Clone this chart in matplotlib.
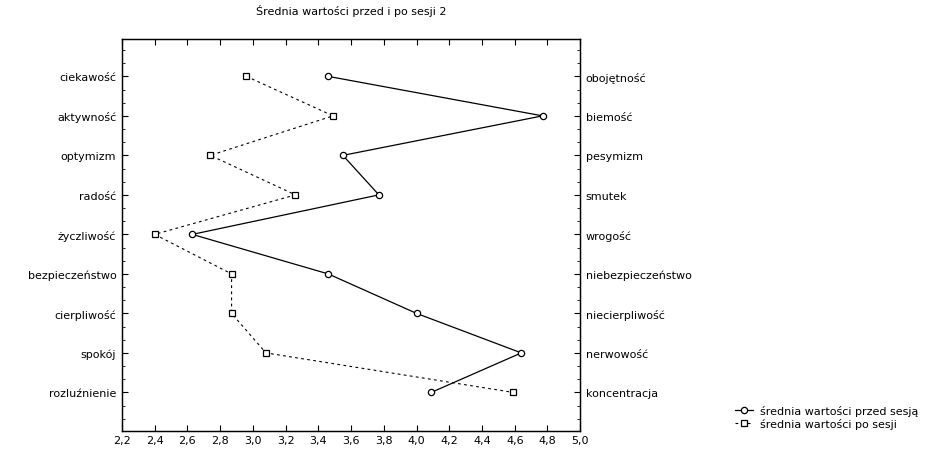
import matplotlib.pyplot as plt
import numpy as np
from matplotlib.ticker import FuncFormatter, MultipleLocator

plt.rcParams["font.family"] = ["DejaVu Sans"]

positive = ["ciekawość", "aktywność", "optymizm", "radość", "życzliwość",
            "bezpieczeństwo", "cierpliwość", "spokój", "rozluźnienie"]
negative = ["obojętność", "biemość", "pesymizm", "smutek", "wrogość",
            "niebezpieczeństwo", "niecierpliwość", "nerwowość", "koncentracja"]
before = [3.46, 4.77, 3.55, 3.77, 2.63, 3.46, 4.00, 4.64, 4.09]
after = [2.96, 3.49, 2.74, 3.26, 2.40, 2.87, 2.87, 3.08, 4.59]

pos = np.arange(1, len(positive) + 1)

fig = plt.figure(figsize=(9.45, 4.52), dpi=100)
ax = fig.add_axes([0.129, 0.044, 0.485, 0.867])

ax.plot(before, pos, color="black", lw=0.9, marker="o", ms=4.5,
        mfc="white", mec="black", mew=0.9, label="średnia wartości przed sesją")
ax.plot(after, pos, color="black", lw=0.8, ls=(0, (2.5, 3)), marker="s", ms=4.2,
        mfc="white", mec="black", mew=0.9, label="średnia wartości po sesji")

ax.set_xlim(2.2, 5.0)
ax.set_ylim(9.98, 0.06)
ax.set_xticks(np.arange(2.2, 5.01, 0.2))
ax.xaxis.set_major_formatter(FuncFormatter(lambda v, _: f"{v:.1f}".replace(".", ",")))
ax.set_yticks(pos)
ax.set_yticklabels(positive)
ax.yaxis.set_minor_locator(MultipleLocator(1 / 3))
ax.tick_params(axis="both", direction="in", labelsize=8, length=4, width=0.8,
               top=True, pad=4)
ax.tick_params(axis="x", pad=3)
ax.tick_params(axis="y", which="minor", direction="in", length=2, width=0.6)

ax2 = ax.twinx()
ax2.set_ylim(ax.get_ylim())
ax2.set_yticks(pos)
ax2.set_yticklabels(negative)
ax2.yaxis.set_minor_locator(MultipleLocator(1 / 3))
ax2.tick_params(axis="y", direction="in", labelsize=8, length=4, width=0.8, pad=4)
ax2.tick_params(axis="y", which="minor", direction="in", length=2, width=0.6)

for a in (ax, ax2):
    for s in a.spines.values():
        s.set_linewidth(0.9)

ax.set_title("Średnia wartości przed i po sesji 2", fontsize=8, pad=18)

fig.legend(loc="lower left", bbox_to_anchor=(0.772, 0.036), frameon=False,
           fontsize=8, handlelength=1.6, handletextpad=0.6, labelspacing=0.2,
           borderpad=0)

fig.savefig("out.png", dpi=100)
